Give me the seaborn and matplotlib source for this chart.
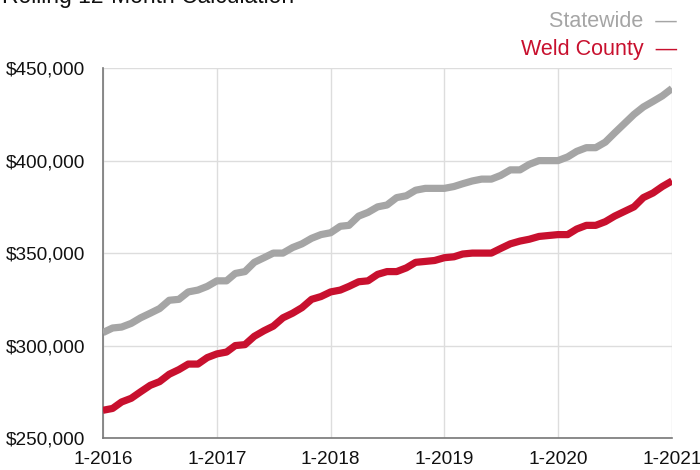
import pandas as pd
import matplotlib.pyplot as plt
import seaborn as sns

# monthly rolling 12-month median price, Jan 2016 .. Jan 2021
months = pd.date_range('2016-01-01', periods=61, freq='MS')

statewide = [307, 309.5, 310, 312, 315, 317.5, 320, 324.5, 325, 329, 330, 332,
             335, 335, 339, 340, 345, 347.5, 350, 350, 353, 355, 358, 360,
             361, 364.5, 365, 370, 372, 375, 376, 380, 381, 384, 385, 385,
             385, 386, 387.5, 389, 390, 390, 392, 395, 395, 398, 400, 400,
             400, 402, 405, 407, 407, 410, 415, 420, 425, 429, 432, 435,
             439]

weld = [265, 266, 269.5, 271.5, 275, 278.5, 280.5, 284.5, 287, 290, 290, 293.5,
        295.5, 296.5, 300, 300.5, 305, 308, 310.5, 315, 317.5, 320.5, 325, 326.5,
        329, 330, 332, 334.5, 335, 338.5, 340, 340, 342, 345, 345.5, 346,
        347.5, 348, 349.5, 350, 350, 350, 352.5, 355, 356.5, 357.5, 359, 359.5,
        360, 360, 363, 365, 365, 367, 370, 372.5, 375, 380, 382.5, 386,
        389]

series_names = ['Statewide', 'Weld County']
series_colors = ['#a5a5a5', '#c8102e']

year_ticks = pd.to_datetime(['2016-01-01', '2017-01-01', '2018-01-01',
                             '2019-01-01', '2020-01-01', '2021-01-01'])
year_labels = ['1-2016', '1-2017', '1-2018', '1-2019', '1-2020', '1-2021']
price_ticks = [250000, 300000, 350000, 400000, 450000]
price_labels = ['$250,000', '$300,000', '$350,000', '$400,000', '$450,000']

df = pd.DataFrame({
    'month': list(months) * 2,
    'price': [v * 1000 for v in statewide] + [v * 1000 for v in weld],
    'area': ['Statewide'] * len(statewide) + ['Weld County'] * len(weld),
})

sns.set_style('white')
plt.rcParams['font.family'] = ['Liberation Sans', 'DejaVu Sans']

fig = plt.figure(figsize=(7, 4.7), dpi=100)
ax = fig.add_axes([0.147, 0.068, 0.813, 0.787])

sns.lineplot(data=df, x='month', y='price', hue='area', hue_order=series_names,
             palette=series_colors, linewidth=5.2, legend=False, ax=ax,
             solid_capstyle='butt', zorder=3)

ax.set_xlim(year_ticks[0], year_ticks[-1])
ax.set_ylim(250000, 450000)
ax.set_xticks(year_ticks)
ax.set_xticklabels(year_labels)
ax.set_yticks(price_ticks)
ax.set_yticklabels(price_labels)
ax.set_xlabel('')
ax.set_ylabel('')

ax.grid(True, color='#dddddd', linewidth=1)
for s in ['top', 'right']:
    ax.spines[s].set_visible(False)
for s in ['left', 'bottom']:
    ax.spines[s].set_color('#777777')
    ax.spines[s].set_linewidth(1.2)
ax.tick_params(axis='both', length=5, width=1, color='#777777',
               labelsize=13.7, labelcolor='#111111')
ax.tick_params(axis='y', pad=8)
ax.tick_params(axis='x', pad=4)

# title, mostly cut off by the top edge in the original
fig.text(0.003, 0.994, 'Rolling 12-Month Calculation', fontsize=16.5,
         color='#111111', va='baseline', ha='left')

# legend drawn as coloured labels with a dash
fig.text(0.967, 0.955, 'Statewide  —', fontsize=15.5, color=series_colors[0],
         ha='right', va='center')
fig.text(0.967, 0.895, 'Weld County  —', fontsize=15.5, color=series_colors[1],
         ha='right', va='center')

fig.savefig('out.png', dpi=100)
